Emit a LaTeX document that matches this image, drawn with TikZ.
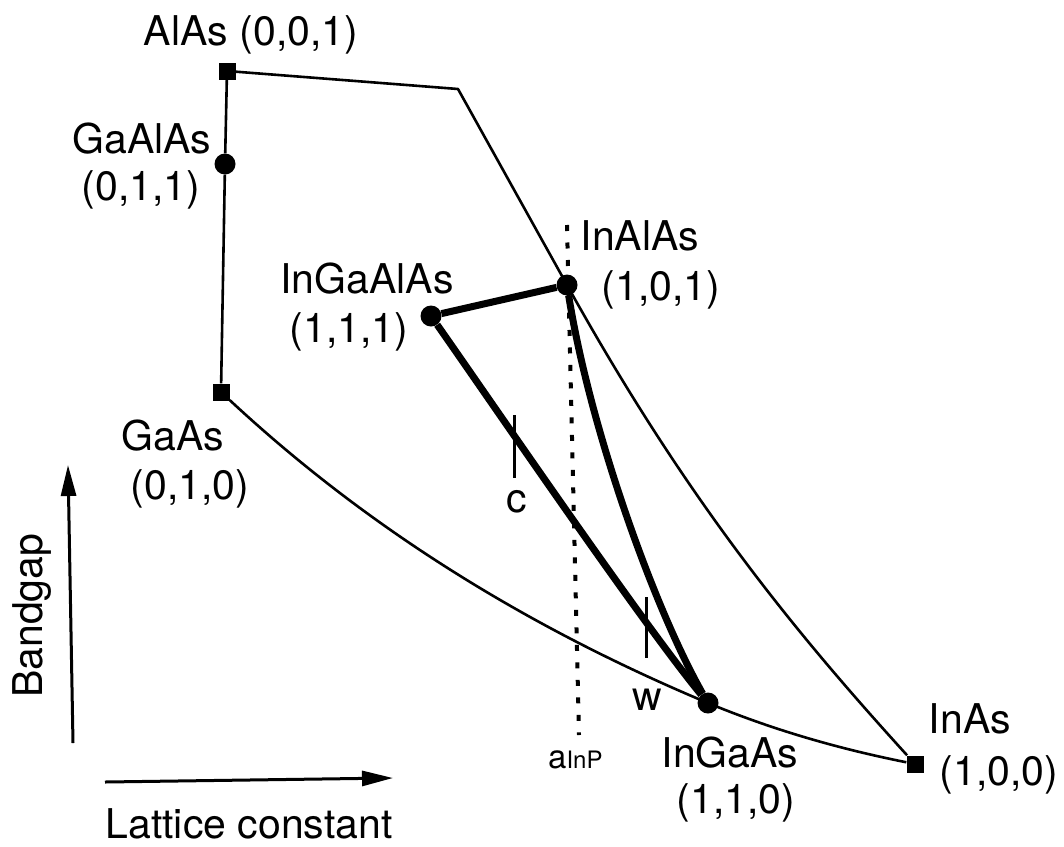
\documentclass[tikz,border=0pt]{standalone}
\usepackage{fontspec}
\setmainfont{TeX Gyre Heros}
\usetikzlibrary{arrows.meta}

\tikzset{
  lbl/.style={font=\fontsize{41}{49}\selectfont, inner sep=0pt, anchor=base},
  sqpt/.style={fill=black, rectangle, minimum size=17pt, inner sep=0pt},
  dotpt/.style={fill=black, circle, minimum size=21pt, inner sep=0pt},
  thinline/.style={line width=2.6pt, line join=round},
  thickline/.style={line width=7pt, line join=round},
  tickline/.style={line width=3pt},
  axis/.style={line width=3pt, -{Triangle[length=31pt,width=15pt]}},
}

\begin{document}
\begin{tikzpicture}[x=1pt, y=-1pt]
  \useasboundingbox (0,0) rectangle (1064,846);

  % compounds
  \node[sqpt]  (AlAs)     at (227,71)  {};
  \node[dotpt] (GaAlAs)   at (225,164) {};
  \node[sqpt]  (GaAs)     at (221,392) {};
  \node[sqpt]  (InAs)     at (915,764) {};
  \node[dotpt] (InAlAs)   at (567,285) {};
  \node[dotpt] (InGaAs)   at (708,703) {};
  \node[dotpt] (InGaAlAs) at (431,316) {};
  \coordinate (knee) at (458,89);

  % outline
  \draw[thinline] (AlAs) -- (GaAlAs) -- (GaAs);
  \draw[thinline] (AlAs) -- (knee) -- (InAlAs.center)
    .. controls (687,501) and (795,632) .. (InAs);
  \draw[thinline] (GaAs) .. controls (381,541) and (548,636) .. (InGaAs.center)
    .. controls (778,732) and (845,750) .. (InAs);

  % lattice matched triangle
  \draw[thickline] (InGaAlAs) -- (InAlAs);
  \draw[thickline] (InGaAlAs) .. controls (490,400) and (640,620) .. (InGaAs);
  \draw[thickline] (InAlAs) .. controls (590,430) and (655,610) .. (InGaAs);

  % marks c and w
  \coordinate (ctop) at (514,415);
  \coordinate (cbot) at (514,478);
  \draw[tickline] (ctop) -- (cbot);
  \coordinate (wtop) at (646,597);
  \coordinate (wbot) at (646,658);
  \draw[tickline] (wtop) -- (wbot);

  % InP lattice constant
  \coordinate (atop) at (567,225);
  \coordinate (abot) at (579,735);
  \draw[line width=4pt, dash pattern=on 6pt off 11.5pt] (atop) -- (abot);

  % axes
  \coordinate (bg0) at (73,743);
  \coordinate (bg1) at (68,465);
  \draw[axis] (bg0) -- (bg1);
  \coordinate (lc0) at (105,782);
  \coordinate (lc1) at (393,778);
  \draw[axis] (lc0) -- (lc1);

  % labels
  \node[lbl] (tAlAs) at (251,45) {AlAs (0,0,1)};
  \node[lbl] (tGaAlAs) at (142,153) {GaAlAs};
  \node[lbl] (iGaAlAs) at (141,200) {(0,1,1)};
  \node[lbl] (tInAlAs) at (640,250) {InAlAs};
  \node[lbl] (iInAlAs) at (661,300) {(1,0,1)};
  \node[lbl] (tInGaAlAs) at (367,293) {InGaAlAs};
  \node[lbl] (iInGaAlAs) at (349,342) {(1,1,1)};
  \node[lbl] (tGaAs) at (173,450) {GaAs};
  \node[lbl] (iGaAs) at (190,499) {(0,1,0)};
  \node[lbl] (tInGaAs) at (730,767) {InGaAs};
  \node[lbl] (iInGaAs) at (736,813) {(1,1,0)};
  \node[lbl] (tInAs) at (970,733) {InAs};
  \node[lbl] (iInAs) at (999,785) {(1,0,0)};
  \node[lbl] (tc) at (517,512) {c};
  \node[lbl] (tw) at (647,710) {w};
  \node[lbl, anchor=base west] (aInP) at (548,768)
    {\fontsize{33}{40}\selectfont a\fontsize{24}{29}\selectfont InP};
  \node[lbl, rotate=90, anchor=base west] (bandgap) at (42,698) {Bandgap};
  \node[lbl] (lattice) at (249,838) {Lattice constant};
\end{tikzpicture}
\end{document}
